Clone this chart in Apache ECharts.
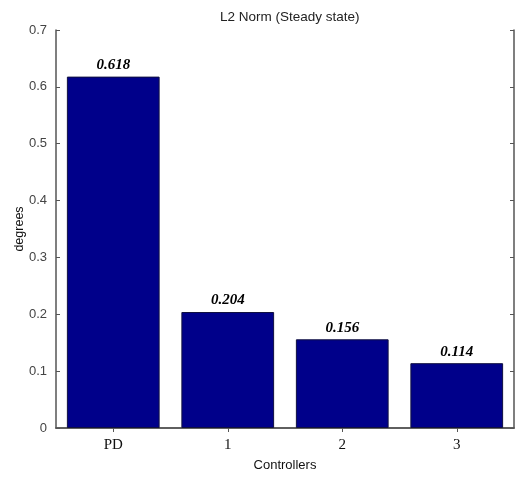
<!DOCTYPE html>
<html>
<head>
<meta charset="utf-8">
<script src="https://cdn.jsdelivr.net/npm/echarts@6/dist/echarts.min.js"></script>
<style>
  html, body { margin: 0; padding: 0; background: #fff; }
  #chart { width: 529px; height: 479px; }
</style>
</head>
<body>
<div id="chart"></div>
<script>
// Steady-state L2 norm per controller
const controllers = ['PD', '1', '2', '3'];
const l2Norm = [0.618, 0.204, 0.156, 0.114];
const yTicks = [0, 0.1, 0.2, 0.3, 0.4, 0.5, 0.6, 0.7];

const axisColor = '#555';
const chart = echarts.init(document.getElementById('chart'));

const boxAxisLine = { show: true, lineStyle: { color: axisColor, width: 1.5 } };
const inTick = { show: true, inside: true, length: 4, lineStyle: { color: axisColor, width: 1 } };

chart.setOption({
  animation: false,
  backgroundColor: '#fff',
  title: {
    text: 'L2 Norm (Steady state)',
    left: 215, top: 5,
    textStyle: { fontFamily: 'Liberation Sans', fontSize: 13.5, fontWeight: 'normal', color: '#222' }
  },
  grid: { left: 56, top: 30, right: 15, bottom: 51, outerBoundsMode: 'none', containLabel: false },
  xAxis: [
    {
      type: 'category', data: controllers, position: 'bottom',
      name: 'Controllers', nameLocation: 'middle', nameGap: 31, nameMoveOverlap: false,
      nameTextStyle: { fontFamily: 'Liberation Sans', fontSize: 13, color: '#111' },
      axisLine: boxAxisLine,
      axisTick: Object.assign({ alignWithLabel: true }, inTick),
      axisLabel: { fontFamily: 'Liberation Serif', fontSize: 15, color: '#111', margin: 10 }
    },
    {
      type: 'category', data: controllers, position: 'top',
      axisLine: boxAxisLine,
      axisTick: Object.assign({ alignWithLabel: true }, inTick),
      axisLabel: { show: false }
    }
  ],
  yAxis: [
    {
      type: 'value', min: 0, max: 0.7, interval: 0.1, position: 'left',
      name: 'degrees', nameLocation: 'middle', nameGap: 30, nameRotate: 90, nameMoveOverlap: false,
      nameTextStyle: { fontFamily: 'Liberation Sans', fontSize: 12.5, color: '#111' },
      axisLine: boxAxisLine,
      axisTick: inTick,
      splitLine: { show: false },
      axisLabel: {
        fontFamily: 'Liberation Sans', fontSize: 13, color: '#444', margin: 9,
        formatter: v => {
          const t = yTicks.find(x => Math.abs(x - v) < 1e-9);
          return t === undefined ? '' : String(t);
        }
      }
    },
    {
      type: 'value', min: 0, max: 0.7, interval: 0.1, position: 'right',
      axisLine: boxAxisLine,
      axisTick: inTick,
      splitLine: { show: false },
      axisLabel: { show: false }
    }
  ],
  series: [{
    type: 'bar',
    data: l2Norm,
    barWidth: '81%',
    itemStyle: { color: '#00008a', borderColor: '#101040', borderWidth: 1 },
    label: {
      show: true, position: 'top', distance: 4,
      fontFamily: 'Liberation Serif', fontStyle: 'italic', fontWeight: 'bold', fontSize: 15, color: '#000',
      formatter: p => p.value.toFixed(3)
    }
  }]
});
</script>
</body>
</html>
